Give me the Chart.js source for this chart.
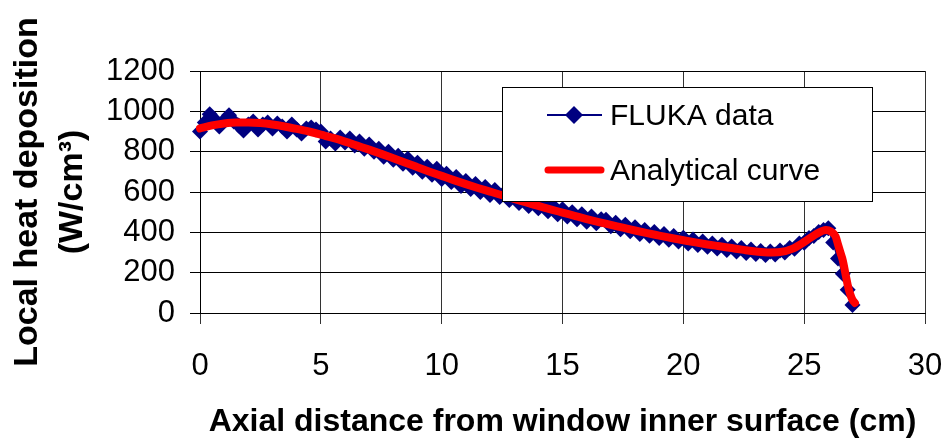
<!DOCTYPE html>
<html>
<head>
<meta charset="utf-8">
<script src="https://cdn.jsdelivr.net/npm/chart.js@4"></script>
<style>
  body { margin: 0; background: #fff; }
  canvas { display: block; }
</style>
</head>
<body>
<canvas id="chart" width="948" height="443"></canvas>
<script>
// FLUKA simulation points (axial distance in cm, heat deposition in W/cm3)
var flukaX = [0, 0.2, 0.4, 0.6, 0.8, 1, 1.2, 1.4, 1.6, 1.8, 2, 2.2, 2.4, 2.6, 2.8, 3, 3.2, 3.4, 3.6, 3.8,
    4, 4.2, 4.4, 4.6, 4.8, 5, 5.2, 5.4, 5.6, 5.8, 6, 6.2, 6.4, 6.6, 6.8, 7, 7.2, 7.4, 7.6, 7.8,
    8, 8.2, 8.4, 8.6, 8.8, 9, 9.2, 9.4, 9.6, 9.8, 10, 10.2, 10.4, 10.6, 10.8, 11, 11.2, 11.4, 11.6, 11.8,
    12, 12.2, 12.4, 12.6, 12.8, 13, 13.2, 13.4, 13.6, 13.8, 14, 14.2, 14.4, 14.6, 14.8, 15, 15.2, 15.4, 15.6, 15.8,
    16, 16.2, 16.4, 16.6, 16.8, 17, 17.2, 17.4, 17.6, 17.8, 18, 18.2, 18.4, 18.6, 18.8, 19, 19.2, 19.4, 19.6, 19.8,
    20, 20.2, 20.4, 20.6, 20.8, 21, 21.2, 21.4, 21.6, 21.8, 22, 22.2, 22.4, 22.6, 22.8, 23, 23.2, 23.4, 23.6, 23.8,
    24, 24.2, 24.4, 24.6, 24.8, 25, 25.2, 25.4, 25.6, 25.8, 26, 26.2, 26.4, 26.6, 26.8, 27];
var flukaY = [900, 945, 985, 960, 925, 955, 980, 950, 930, 905, 935, 950, 910, 935, 945, 915, 940, 925, 900, 935,
    910, 890, 915, 920, 910, 900, 850, 865, 840, 870, 845, 865, 830, 850, 815, 835, 800, 815, 775, 800,
    760, 780, 740, 765, 720, 745, 700, 725, 685, 715, 665, 690, 650, 675, 630, 655, 615, 640, 600, 625,
    585, 610, 575, 595, 560, 585, 545, 570, 530, 555, 520, 540, 505, 530, 490, 515, 478, 500, 465, 490,
    452, 478, 445, 465, 462, 430, 448, 415, 438, 405, 425, 392, 412, 383, 402, 372, 392, 363, 382, 355,
    373, 345, 364, 337, 355, 328, 345, 320, 338, 312, 330, 305, 322, 298, 315, 292, 308, 288, 305, 290,
    310, 300, 322, 318, 345, 348, 372, 382, 402, 412, 420, 350, 270, 195, 115, 40];

// analytical fit
var curveX = [0, 0.5, 1, 1.5, 2, 2.5, 3, 3.5, 4, 4.5, 5, 5.5, 6, 6.5, 7, 7.5, 8, 8.5, 9, 9.5,
    10, 10.5, 11, 11.5, 12, 12.5, 13, 13.5, 14, 14.5, 15, 15.5, 16, 16.5, 17, 17.5, 18, 18.5, 19, 19.5,
    20, 20.5, 21, 21.5, 22, 22.5, 23, 23.5, 24, 24.5, 25, 25.5, 25.9, 26.1, 26.3, 26.4, 26.5, 26.6, 26.7, 26.8,
    26.9, 27, 27.1];
var curveY = [915, 930, 940, 945, 945, 942, 935, 925, 913, 900, 885, 868, 850, 830, 810, 789, 767, 745, 723, 701,
    680, 659, 639, 620, 602, 584, 566, 548, 531, 514, 498, 482, 466, 451, 437, 423, 409, 396, 384, 372,
    361, 350, 340, 331, 322, 313, 305, 300, 302, 318, 352, 392, 412, 405, 380, 340, 300, 260, 200, 140,
    95, 65, 50];

var xTicks = [0, 5, 10, 15, 20, 25, 30];
var yTicks = [0, 200, 400, 600, 800, 1000, 1200];

var FONT = "'Liberation Sans', Arial, sans-serif";

function toPoints(xs, ys) {
    return xs.map(function (x, i) { return { x: x, y: ys[i] }; });
}

// legend box drawn inside the plot like the original
var legendBox = {
    id: 'legendBox',
    afterDraw: function (chart) {
        var ctx = chart.ctx;
        var sets = chart.data.datasets;
        ctx.save();
        ctx.fillStyle = '#fff';
        ctx.fillRect(502, 87, 370, 114);
        ctx.strokeStyle = '#000';
        ctx.lineWidth = 1;
        ctx.strokeRect(502.5, 87.5, 370, 114);

        // FLUKA entry
        ctx.strokeStyle = sets[0].borderColor;
        ctx.lineWidth = 2;
        ctx.beginPath();
        ctx.moveTo(547, 115);
        ctx.lineTo(602, 115);
        ctx.stroke();
        ctx.fillStyle = sets[0].backgroundColor;
        ctx.beginPath();
        ctx.moveTo(574, 106);
        ctx.lineTo(583, 115);
        ctx.lineTo(574, 124);
        ctx.lineTo(565, 115);
        ctx.closePath();
        ctx.fill();

        // analytical entry
        ctx.strokeStyle = sets[1].borderColor;
        ctx.lineWidth = 7;
        ctx.lineCap = 'round';
        ctx.beginPath();
        ctx.moveTo(548, 170);
        ctx.lineTo(601, 170);
        ctx.stroke();

        ctx.fillStyle = '#000';
        ctx.font = '30px ' + FONT;
        ctx.textBaseline = 'middle';
        ctx.textAlign = 'left';
        ctx.fillText(sets[0].label, 610, 117);
        ctx.fillText(sets[1].label, 610, 172);
        ctx.restore();
    }
};

var plainLabel = function (value) { return String(value); };

var ctx = document.getElementById('chart').getContext('2d');
var chart = new Chart(ctx, {
    type: 'scatter',
    data: {
        datasets: [{
            label: 'FLUKA data',
            data: toPoints(flukaX, flukaY),
            showLine: true,
            borderColor: '#000080',
            backgroundColor: '#000080',
            borderWidth: 2,
            pointStyle: 'rectRot',
            pointRadius: 8,
            pointBorderWidth: 0,
            clip: false,
            order: 2
        }, {
            label: 'Analytical curve',
            data: toPoints(curveX, curveY),
            showLine: true,
            borderColor: '#ff0000',
            backgroundColor: '#ff0000',
            borderWidth: 8,
            borderCapStyle: 'round',
            borderJoinStyle: 'round',
            cubicInterpolationMode: 'monotone',
            pointRadius: 0,
            clip: false,
            order: 1
        }]
    },
    options: {
        responsive: false,
        animation: false,
        events: [],
        layout: { padding: { left: 0, right: 23, top: 71, bottom: 0 } },
        plugins: {
            legend: { display: false },
            tooltip: { enabled: false }
        },
        scales: {
            x: {
                type: 'linear',
                min: 0,
                max: 30,
                afterBuildTicks: function (scale) {
                    scale.ticks = xTicks.map(function (v) { return { value: v }; });
                },
                afterFit: function (scale) {
                    scale.height = 130;
                    scale.paddingLeft = 0;
                    scale.paddingRight = 0;
                },
                grid: { color: '#333', lineWidth: 1, tickLength: 11 },
                border: { color: '#000', width: 1 },
                ticks: { color: '#000', font: { family: FONT, size: 31 }, padding: 24, maxRotation: 0, callback: plainLabel },
                title: {
                    display: true,
                    text: 'Axial distance from window inner surface (cm)',
                    color: '#000',
                    font: { family: FONT, size: 32, weight: 'bold' },
                    padding: { top: 0, bottom: 2 }
                }
            },
            y: {
                min: 0,
                max: 1200,
                afterBuildTicks: function (scale) {
                    scale.ticks = yTicks.map(function (v) { return { value: v }; });
                },
                afterFit: function (scale) {
                    scale.width = 200;
                    scale.paddingTop = 0;
                    scale.paddingBottom = 0;
                },
                grid: { color: '#000', lineWidth: 1, tickLength: 10 },
                border: { color: '#000', width: 1 },
                ticks: { color: '#000', font: { family: FONT, size: 31 }, padding: 15, callback: plainLabel },
                title: {
                    display: true,
                    text: ['Local heat deposition', '(W/cm\u00b3)'],
                    color: '#000',
                    font: { family: FONT, size: 34, weight: 'bold', lineHeight: 1.3 },
                    padding: { top: 6, bottom: 0 }
                }
            }
        }
    },
    plugins: [legendBox]
});
</script>
</body>
</html>
